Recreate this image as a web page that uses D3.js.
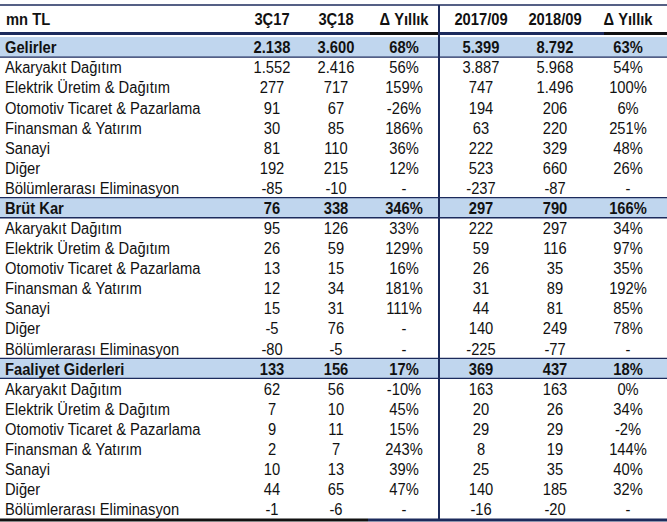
<!DOCTYPE html>
<html><head><meta charset="utf-8">
<script src="https://cdn.jsdelivr.net/npm/d3@7"></script>
<style>body{margin:0;background:#fff}svg{display:block}</style>
</head><body>
<script>
const headers = ["mn TL", "3Ç17", "3Ç18", "Δ Yıllık", "2017/09", "2018/09", "Δ Yıllık"];
const labels = [
 "Gelirler","Akaryakıt Dağıtım","Elektrik Üretim & Dağıtım","Otomotiv Ticaret & Pazarlama","Finansman & Yatırım","Sanayi","Diğer","Bölümlerarası Eliminasyon",
 "Brüt Kar","Akaryakıt Dağıtım","Elektrik Üretim & Dağıtım","Otomotiv Ticaret & Pazarlama","Finansman & Yatırım","Sanayi","Diğer","Bölümlerarası Eliminasyon",
 "Faaliyet Giderleri","Akaryakıt Dağıtım","Elektrik Üretim & Dağıtım","Otomotiv Ticaret & Pazarlama","Finansman & Yatırım","Sanayi","Diğer","Bölümlerarası Eliminasyon"];
const sectionRows = [0, 8, 16];
const q3_17 = ["2.138","1.552","277","91","30","81","192","-85", "76","95","26","13","12","15","-5","-80", "133","62","7","9","2","10","44","-1"];
const q3_18 = ["3.600","2.416","717","67","85","110","215","-10", "338","126","59","15","34","31","76","-5", "156","56","10","11","7","13","65","-6"];
const q_yoy = ["68%","56%","159%","-26%","186%","36%","12%","-", "346%","33%","129%","16%","181%","111%","-","-", "17%","-10%","45%","15%","243%","39%","47%","-"];
const m9_17 = ["5.399","3.887","747","194","63","222","523","-237", "297","222","59","26","31","44","140","-225", "369","163","20","29","8","25","140","-16"];
const m9_18 = ["8.792","5.968","1.496","206","220","329","660","-87", "790","297","116","35","89","81","249","-77", "437","163","26","29","19","35","185","-20"];
const m_yoy = ["63%","54%","100%","6%","251%","48%","26%","-", "166%","34%","97%","35%","192%","85%","78%","-", "18%","0%","34%","-2%","144%","40%","32%","-"];

const W = 667, H = 522;
const navy = "#1c2b5c", band = "#c0d6ee", black = "#111";
const font = "'Liberation Sans', Arial, sans-serif";
const SX = 0.92;
const cols = [q3_17, q3_18, q_yoy, m9_17, m9_18, m_yoy];

const svg = d3.select("body").append("svg").attr("width", W).attr("height", H);
const y = d3.scaleBand().domain(d3.range(labels.length)).range([37, 519]);
const x = d3.scaleOrdinal().domain(d3.range(1, 7)).range([272, 336, 404, 481, 555, 628]);

// section bands
const secs = svg.append("g");
secs.selectAll("rect").data(sectionRows).join("rect")
  .attr("x", 0).attr("width", W).attr("y", d => y(d)).attr("height", y.bandwidth()).attr("fill", band);
secs.selectAll("line.b").data(sectionRows).join("line").attr("class","b")
  .attr("x1", 0).attr("x2", W).attr("y1", d => y(d) + y.bandwidth()).attr("y2", d => y(d) + y.bandwidth())
  .attr("stroke", navy).attr("stroke-width", 1.3);
secs.selectAll("line.t").data(sectionRows.filter(d => d > 0)).join("line").attr("class","t")
  .attr("x1", 0).attr("x2", W).attr("y1", d => y(d)).attr("y2", d => y(d))
  .attr("stroke", navy).attr("stroke-width", 1.3);

svg.append("line").attr("x1",0).attr("x2",W).attr("y1",5).attr("y2",5).attr("stroke",navy).attr("stroke-width",1.5);
[[0,370,navy],[370,438,black],[438,604,navy],[604,W,black]].forEach(s =>
  svg.append("line").attr("x1",s[0]).attr("x2",s[1]).attr("y1",33.5).attr("y2",33.5).attr("stroke",s[2]).attr("stroke-width",3));
[[0,368,black],[368,W,navy]].forEach(s =>
  svg.append("line").attr("x1",s[0]).attr("x2",s[1]).attr("y1",520).attr("y2",520).attr("stroke",s[2]).attr("stroke-width",3));
svg.append("line").attr("x1",439).attr("x2",439).attr("y1",5).attr("y2",519).attr("stroke",navy).attr("stroke-width",2);

// header texts
const hg = svg.append("g").attr("font-family", font).attr("font-weight","bold").attr("font-size", 16).attr("fill","#111");
hg.append("text").attr("transform", `translate(6,19) scale(${SX},1)`).attr("dominant-baseline","central").text(headers[0]);
hg.selectAll("text.h").data(headers.slice(1)).join("text").attr("class","h")
  .attr("transform", (d,i) => `translate(${x(i+1)},19) scale(${SX},1)`)
  .attr("text-anchor","middle").attr("dominant-baseline","central").text(d => d);

// body
const rows = svg.append("g").attr("font-family", font).attr("fill","#111");
const rg = rows.selectAll("g").data(labels.map((l,i) => ({l, i}))).join("g")
  .attr("transform", d => `translate(0,${y(d.i) + y.bandwidth()/2 + 0.5})`)
  .attr("font-weight", d => sectionRows.includes(d.i) ? "bold" : "normal")
  .attr("font-size", 16);
rg.append("text").attr("transform", `translate(5,0) scale(${SX},1)`).attr("dominant-baseline","central").text(d => d.l);
cols.forEach((c, ci) => {
  rg.append("text").attr("transform", `translate(${x(ci+1)},0) scale(${SX},1)`)
    .attr("text-anchor","middle").attr("dominant-baseline","central").text(d => c[d.i]);
});
</script>
</body></html>
